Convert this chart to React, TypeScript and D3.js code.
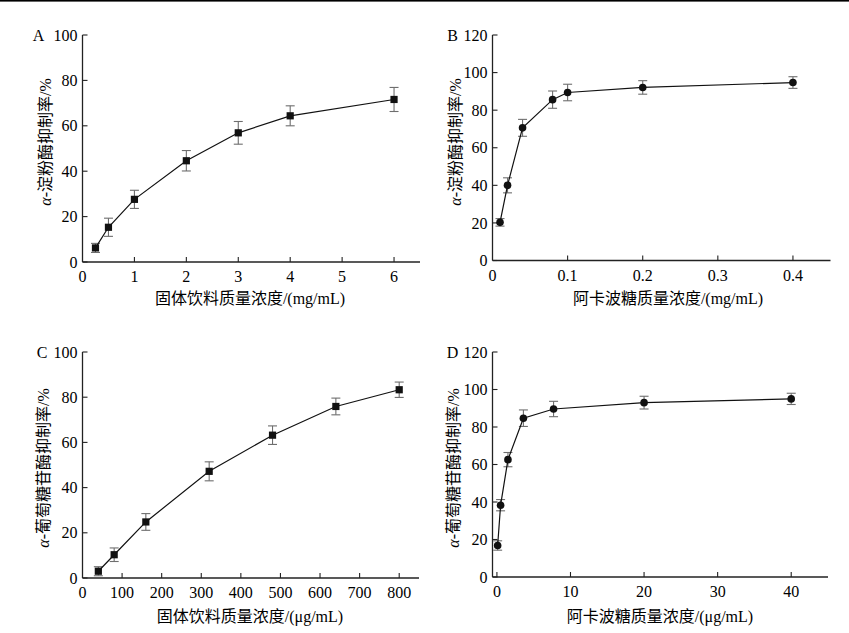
import React from "react";
import * as d3 from "d3";

// Panel A: alpha-amylase inhibition by the solid beverage (mg/mL)
const aConc = [0.25, 0.5, 1, 2, 3, 4, 6];
const aRate = [6.2, 15.3, 27.6, 44.6, 56.9, 64.4, 71.6];
const aErr = [2.0, 4.0, 4.0, 4.5, 5.0, 4.4, 5.3];
const aXTicks = [0, 1, 2, 3, 4, 5, 6];
const aYTicks = [0, 20, 40, 60, 80, 100];

// Panel B: alpha-amylase inhibition by acarbose (mg/mL)
const bConc = [0.01, 0.02, 0.04, 0.08, 0.1, 0.2, 0.4];
const bRate = [20.3, 40.0, 70.6, 85.6, 89.4, 92.1, 94.7];
const bErr = [2.0, 4.0, 4.5, 4.6, 4.4, 3.6, 3.1];
const bXTicks = [0, 0.1, 0.2, 0.3, 0.4];
const bYTicks = [0, 20, 40, 60, 80, 100, 120];

// Panel C: alpha-glucosidase inhibition by the solid beverage (µg/mL)
const cConc = [40, 80, 160, 320, 480, 640, 800];
const cRate = [3.0, 10.3, 24.8, 47.2, 63.2, 75.9, 83.3];
const cErr = [2.0, 3.0, 3.7, 4.2, 4.1, 3.7, 3.4];
const cXTicks = [0, 100, 200, 300, 400, 500, 600, 700, 800];
const cYTicks = [0, 20, 40, 60, 80, 100];

// Panel D: alpha-glucosidase inhibition by acarbose (µg/mL)
const dConc = [0.1, 0.5, 1.5, 3.6, 7.7, 20, 40];
const dRate = [16.8, 38.3, 62.6, 84.7, 89.6, 93.0, 95.0];
const dErr = [2.5, 3.0, 3.8, 4.4, 4.1, 3.4, 3.0];
const dXTicks = [0, 10, 20, 30, 40];
const dYTicks = [0, 20, 40, 60, 80, 100, 120];

const LATIN = "'Liberation Serif', 'Times New Roman', 'Noto Sans CJK SC', serif";

type PanelProps = {
  letter: string;
  letterPos: [number, number];
  box: { left: number; right: number; top: number; bottom: number };
  xDomain: [number, number];
  yDomain: [number, number];
  xTicks: number[];
  yTicks: number[];
  xs: number[];
  ys: number[];
  errs: number[];
  marker: "square" | "circle";
  yLabel: string;
  yLabelPos: [number, number];
  xLabel: string;
  xLabelPos: [number, number];
};

function Panel(p: PanelProps) {
  const x = d3.scaleLinear().domain(p.xDomain).range([p.box.left, p.box.right]);
  const y = d3.scaleLinear().domain(p.yDomain).range([p.box.bottom, p.box.top]);
  const pts = p.xs.map((v, i) => ({ x: v, y: p.ys[i], e: p.errs[i] }));
  const line = d3
    .line<{ x: number; y: number }>()
    .x((d) => x(d.x))
    .y((d) => y(d.y));
  const tickLen = 5;
  const cap = 4.5;

  return (
    <g>
      <text x={p.letterPos[0]} y={p.letterPos[1]} fontFamily={LATIN} fontSize={16} textAnchor="middle">
        {p.letter}
      </text>

      {/* axes */}
      <line x1={p.box.left} x2={p.box.left} y1={p.box.top} y2={p.box.bottom} stroke="#222" strokeWidth={1.3} />
      <line x1={p.box.left} x2={p.box.right} y1={p.box.bottom} y2={p.box.bottom} stroke="#222" strokeWidth={1.3} />

      {p.yTicks.map((t) => (
        <g key={"y" + t}>
          <line x1={p.box.left} x2={p.box.left + tickLen} y1={y(t)} y2={y(t)} stroke="#222" strokeWidth={1.1} />
          <text
            x={p.box.left - 5}
            y={y(t)}
            dy="0.35em"
            textAnchor="end"
            fontFamily={LATIN}
            fontSize={16}
          >
            {String(t)}
          </text>
        </g>
      ))}

      {p.xTicks.map((t) => (
        <g key={"x" + t}>
          {x(t) > p.box.left + 1 && (
            <line x1={x(t)} x2={x(t)} y1={p.box.bottom} y2={p.box.bottom - tickLen} stroke="#222" strokeWidth={1.1} />
          )}
          <text x={x(t)} y={p.box.bottom + 20} textAnchor="middle" fontFamily={LATIN} fontSize={16}>
            {String(t)}
          </text>
        </g>
      ))}

      {/* error bars */}
      {pts.map((d, i) => (
        <g key={"e" + i} stroke="#6e6e6e" strokeWidth={1.1}>
          <line x1={x(d.x)} x2={x(d.x)} y1={y(d.y - d.e)} y2={y(d.y + d.e)} />
          <line x1={x(d.x) - cap} x2={x(d.x) + cap} y1={y(d.y + d.e)} y2={y(d.y + d.e)} />
          <line x1={x(d.x) - cap} x2={x(d.x) + cap} y1={y(d.y - d.e)} y2={y(d.y - d.e)} />
        </g>
      ))}

      <path d={line(pts) || ""} fill="none" stroke="#111" strokeWidth={1.2} />

      {pts.map((d, i) =>
        p.marker === "square" ? (
          <rect key={"m" + i} x={x(d.x) - 3.6} y={y(d.y) - 3.6} width={7.2} height={7.2} fill="#111" />
        ) : (
          <circle key={"m" + i} cx={x(d.x)} cy={y(d.y)} r={3.8} fill="#111" />
        )
      )}

      <text
        transform={`translate(${p.yLabelPos[0]},${p.yLabelPos[1]}) rotate(-90)`}
        textAnchor="middle"
        dy="0.35em"
        fontFamily={LATIN}
        fontSize={16}
      >
        <tspan fontStyle="italic">α</tspan>
        {p.yLabel}
      </text>

      <text x={p.xLabelPos[0]} y={p.xLabelPos[1]} textAnchor="middle" fontFamily={LATIN} fontSize={16}>
        {p.xLabel}
      </text>
    </g>
  );
}

export default function App() {
  return (
    <svg
      width={849}
      height={633}
      viewBox="0 0 849 633"
      style={{ position: "absolute", left: 0, top: 0, background: "#fff" }}
    >
      <rect x={0} y={0} width={849} height={633} fill="#fff" />
      <rect x={0} y={0} width={849} height={1.6} fill="#000" />

      <Panel
        letter="A"
        letterPos={[38.5, 40.5]}
        box={{ left: 82.5, right: 420, top: 35, bottom: 262 }}
        xDomain={[0, 6.5]}
        yDomain={[0, 100]}
        xTicks={aXTicks}
        yTicks={aYTicks}
        xs={aConc}
        ys={aRate}
        errs={aErr}
        marker="square"
        yLabel="-淀粉酶抑制率/%"
        yLabelPos={[45, 142]}
        xLabel="固体饮料质量浓度/(mg/mL)"
        xLabelPos={[250, 304]}
      />
      <Panel
        letter="B"
        letterPos={[452.5, 40.5]}
        box={{ left: 492.5, right: 830.5, top: 35, bottom: 260.5 }}
        xDomain={[0, 0.45]}
        yDomain={[0, 120]}
        xTicks={bXTicks}
        yTicks={bYTicks}
        xs={bConc}
        ys={bRate}
        errs={bErr}
        marker="circle"
        yLabel="-淀粉酶抑制率/%"
        yLabelPos={[455, 142]}
        xLabel="阿卡波糖质量浓度/(mg/mL)"
        xLabelPos={[668, 304]}
      />
      <Panel
        letter="C"
        letterPos={[42, 357.5]}
        box={{ left: 82.5, right: 419, top: 352, bottom: 578 }}
        xDomain={[0, 850]}
        yDomain={[0, 100]}
        xTicks={cXTicks}
        yTicks={cYTicks}
        xs={cConc}
        ys={cRate}
        errs={cErr}
        marker="square"
        yLabel="-葡萄糖苷酶抑制率/%"
        yLabelPos={[43.5, 468]}
        xLabel="固体饮料质量浓度/(μg/mL)"
        xLabelPos={[250, 622]}
      />
      <Panel
        letter="D"
        letterPos={[452.5, 357.5]}
        box={{ left: 492.5, right: 828, top: 352, bottom: 577 }}
        xDomain={[-0.6, 45]}
        yDomain={[0, 120]}
        xTicks={dXTicks}
        yTicks={dYTicks}
        xs={dConc}
        ys={dRate}
        errs={dErr}
        marker="circle"
        yLabel="-葡萄糖苷酶抑制率/%"
        yLabelPos={[453.5, 468]}
        xLabel="阿卡波糖质量浓度/(μg/mL)"
        xLabelPos={[660, 622]}
      />
    </svg>
  );
}
